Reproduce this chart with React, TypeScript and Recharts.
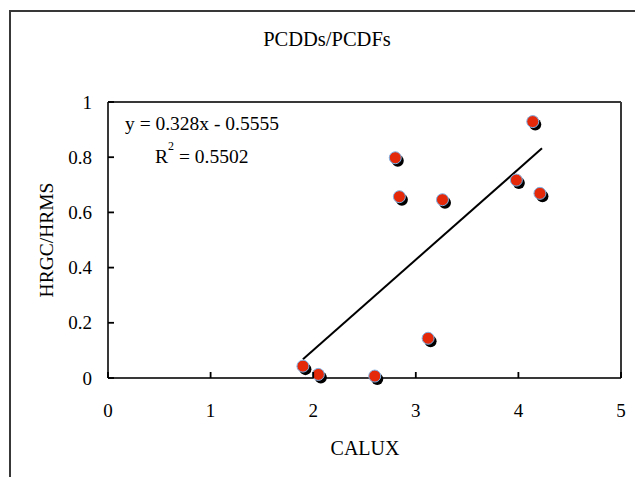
import React from 'react';
import { ScatterChart, Scatter, XAxis, YAxis, ReferenceLine, Customized } from 'recharts';

const caluxValues = [1.9, 2.05, 2.6, 3.12, 2.8, 2.84, 3.26, 3.98, 4.21, 4.14];
const hrgcValues = [0.043, 0.013, 0.007, 0.144, 0.798, 0.657, 0.646, 0.717, 0.669, 0.929];
const xTicks = [0, 1, 2, 3, 4, 5];
const yTicks = [0, 0.2, 0.4, 0.6, 0.8, 1];
const trendX = [1.9, 4.23];
const trendY = [0.068, 0.832];
const titleText = 'PCDDs/PCDFs';
const xLabel = 'CALUX';
const yLabel = 'HRGC/HRMS';
const equationText = 'y = 0.328x - 0.5555';
const r2Value = '= 0.5502';

const points = caluxValues.map((x, i) => ({ x, y: hrgcValues[i] }));
const FONT = 'Liberation Serif';
const fontStyle = { fontFamily: FONT };
const FRAME = '#383838';

const Dot = (props: any) => {
  const { cx, cy } = props;
  if (cx == null || cy == null) return null;
  return (
    <g>
      <circle cx={cx + 2.5} cy={cy + 3} r={6} fill="#000" />
      <circle cx={cx} cy={cy} r={6} fill="#e4290b" stroke="#7fb2e5" strokeWidth={1} />
    </g>
  );
};

const XTick = (props: any) => {
  const { x, y, payload } = props;
  return (
    <g>
      <path d={`M${x},${y}L${x},${y - 6}`} stroke="#000" strokeWidth={1.8} />
      <text x={x} y={y + 32} textAnchor="middle" dominantBaseline="central" style={fontStyle} fontSize={19} fill="#000">
        {payload.value}
      </text>
    </g>
  );
};

const YTick = (props: any) => {
  const { x, y, payload } = props;
  return (
    <g>
      <path d={`M${x},${y}L${x + 6},${y}`} stroke="#000" strokeWidth={1.8} />
      <text x={x - 16} y={y} textAnchor="end" dominantBaseline="central" style={fontStyle} fontSize={19} fill="#000">
        {payload.value}
      </text>
    </g>
  );
};

const Texts = () => (
  <g style={fontStyle} fill="#000">
    <text x={327} y={39} textAnchor="middle" dominantBaseline="central" fontSize={20.5} style={fontStyle}>{titleText}</text>
    <text x={365} y={448} textAnchor="middle" dominantBaseline="central" fontSize={20} style={fontStyle}>{xLabel}</text>
    <text x={46} y={240} textAnchor="middle" dominantBaseline="central" fontSize={19.5} style={fontStyle} transform="rotate(-90 46 240)">{yLabel}</text>
    <text x={125} y={123} dominantBaseline="central" fontSize={19.5} style={fontStyle}>{equationText}</text>
    <text x={155} y={156} dominantBaseline="central" fontSize={19.5} style={fontStyle}>R</text>
    <text x={168} y={146} dominantBaseline="central" fontSize={12} style={fontStyle}>2</text>
    <text x={179} y={156} dominantBaseline="central" fontSize={19.5} style={fontStyle}>{r2Value}</text>
  </g>
);

const frameLine = { stroke: FRAME, strokeWidth: 2 };

export default function App() {
  return (
    <div style={{ position: 'absolute', left: 0, top: 0, width: 635, height: 477, overflow: 'hidden', background: '#fff' }}>
      <div style={{ position: 'absolute', left: 9, top: 10, width: 700, height: 600, borderLeft: '2px solid #383838', borderTop: '2px solid #383838', pointerEvents: 'none' }} />
      <ScatterChart width={635} height={477} margin={{ top: 102, right: 14, bottom: 69, left: 48 }}>
        <XAxis
          xAxisId="b"
          type="number"
          dataKey="x"
          domain={[0, 5]}
          ticks={xTicks}
          height={30}
          axisLine={frameLine}
          tickLine={false}
          tickSize={0}
          tickMargin={0}
          tick={<XTick />}
          interval={0}
        />
        <YAxis
          yAxisId="l"
          type="number"
          dataKey="y"
          domain={[0, 1]}
          ticks={yTicks}
          width={60}
          axisLine={frameLine}
          tickLine={false}
          tickSize={0}
          tickMargin={0}
          tick={<YTick />}
          interval={0}
        />
        <ReferenceLine xAxisId="b" yAxisId="l" y={1} stroke={FRAME} strokeWidth={2} ifOverflow="visible" />
        <ReferenceLine xAxisId="b" yAxisId="l" x={5} stroke={FRAME} strokeWidth={2} ifOverflow="visible" />
        <ReferenceLine
          xAxisId="b"
          yAxisId="l"
          segment={[{ x: trendX[0], y: trendY[0] }, { x: trendX[1], y: trendY[1] }]}
          stroke="#000"
          strokeWidth={2}
          ifOverflow="visible"
        />
        <Scatter xAxisId="b" yAxisId="l" data={points} shape={<Dot />} isAnimationActive={false} />
        <Customized component={Texts} />
      </ScatterChart>
    </div>
  );
}
